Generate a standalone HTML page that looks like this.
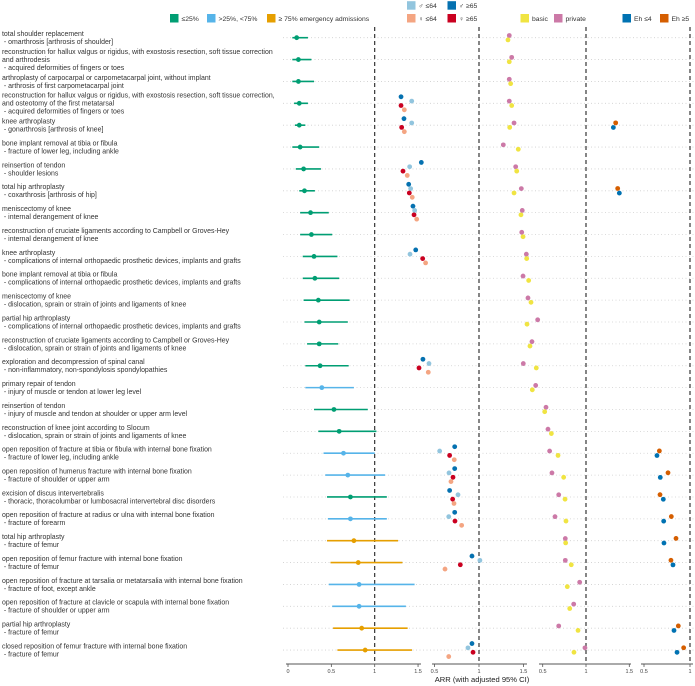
<!DOCTYPE html>
<html><head><meta charset="utf-8"><style>
html,body{margin:0;padding:0;background:#fff;}
svg{display:block;font-family:"Liberation Sans",sans-serif;}
</style></head><body>
<svg id="chart" width="695" height="686" viewBox="0 0 695 686"></svg>
<script>
const labels = [
["total shoulder replacement"," - omarthrosis [arthrosis of shoulder]"],
["reconstruction for hallux valgus or rigidus, with exostosis resection, soft tissue correction","and arthrodesis"," - acquired deformities of fingers or toes"],
["arthroplasty of carpocarpal or carpometacarpal joint, without implant"," - arthrosis of first carpometacarpal joint"],
["reconstruction for hallux valgus or rigidus, with exostosis resection, soft tissue correction,","and osteotomy of the first metatarsal"," - acquired deformities of fingers or toes"],
["knee arthroplasty"," - gonarthrosis [arthrosis of knee]"],
["bone implant removal at tibia or fibula"," - fracture of lower leg, including ankle"],
["reinsertion of tendon"," - shoulder lesions"],
["total hip arthroplasty"," - coxarthrosis [arthrosis of hip]"],
["meniscectomy of knee"," - internal derangement of knee"],
["reconstruction of cruciate ligaments according to Campbell or Groves-Hey"," - internal derangement of knee"],
["knee arthroplasty"," - complications of internal orthopaedic prosthetic devices, implants and grafts"],
["bone implant removal at tibia or fibula"," - complications of internal orthopaedic prosthetic devices, implants and grafts"],
["meniscectomy of knee"," - dislocation, sprain or strain of joints and ligaments of knee"],
["partial hip arthroplasty"," - complications of internal orthopaedic prosthetic devices, implants and grafts"],
["reconstruction of cruciate ligaments according to Campbell or Groves-Hey"," - dislocation, sprain or strain of joints and ligaments of knee"],
["exploration and decompression of spinal canal"," - non-inflammatory, non-spondylosis spondylopathies"],
["primary repair of tendon"," - injury of muscle or tendon at lower leg level"],
["reinsertion of tendon"," - injury of muscle and tendon at shoulder or upper arm level"],
["reconstruction of knee joint according to Slocum"," - dislocation, sprain or strain of joints and ligaments of knee"],
["open reposition of fracture at tibia or fibula with internal bone fixation"," - fracture of lower leg, including ankle"],
["open reposition of humerus fracture with internal bone fixation"," - fracture of shoulder or upper arm"],
["excision of discus intervertebralis"," - thoracic, thoracolumbar or lumbosacral intervertebral disc disorders"],
["open reposition of fracture at radius or ulna with internal bone fixation"," - fracture of forearm"],
["total hip arthroplasty"," - fracture of femur"],
["open reposition of femur fracture with internal bone fixation"," - fracture of femur"],
["open reposition of fracture at tarsalia or metatarsalia with internal bone fixation"," - fracture of foot, except ankle"],
["open reposition of fracture at clavicle or scapula with internal bone fixation"," - fracture of shoulder or upper arm"],
["partial hip arthroplasty"," - fracture of femur"],
["closed reposition of femur fracture with internal bone fixation"," - fracture of femur"]
];
// overall ARR with CI and emergency class (0: <=25%, 1: 25-75%, 2: >=75%)
const arr = [0.10,0.12,0.12,0.13,0.13,0.14,0.18,0.19,0.26,0.27,0.30,0.31,0.35,0.36,0.36,0.37,0.39,0.53,0.59,0.64,0.69,0.72,0.72,0.76,0.81,0.82,0.82,0.85,0.89];
const ciLow = [0.05,0.05,0.05,0.07,0.08,0.05,0.09,0.13,0.14,0.14,0.17,0.17,0.18,0.19,0.22,0.20,0.20,0.30,0.35,0.41,0.43,0.45,0.46,0.45,0.49,0.47,0.51,0.52,0.57];
const ciHigh = [0.23,0.27,0.30,0.23,0.20,0.36,0.38,0.31,0.47,0.51,0.57,0.59,0.71,0.69,0.58,0.70,0.76,0.92,1.02,1.00,1.12,1.14,1.14,1.27,1.32,1.46,1.36,1.38,1.43];
const emergClass = [0,0,0,0,0,0,0,0,0,0,0,0,0,0,0,0,1,0,0,1,1,0,1,2,2,1,1,2,2];
// sex/age panel (row index, values)
const sexRows = [3,4,6,7,8,10,15,19,20,21,22,24,28];
const maleOld = [0.124,0.157,0.352,0.21,0.258,0.289,0.37,0.727,0.727,0.67,0.727,0.921,0.921];
const maleYoung = [0.244,0.244,0.221,0.232,0.277,0.225,0.438,0.558,0.663,0.764,0.66,1.01,0.876];
const femaleOld = [0.124,0.131,0.146,0.217,0.27,0.367,0.326,0.67,0.708,0.704,0.73,0.79,0.933];
const femaleYoung = [0.161,0.161,0.194,0.25,0.30,0.40,0.43,0.722,0.685,0.719,0.805,0.618,0.66];
// insurance panel (all rows)
const privateIns = [0.114,0.142,0.114,0.114,0.169,0.045,0.188,0.253,0.264,0.258,0.311,0.273,0.33,0.442,0.376,0.276,0.419,0.538,0.561,0.58,0.607,0.685,0.642,0.761,0.761,0.927,0.858,0.685,0.988];
const basicIns = [0.099,0.114,0.130,0.142,0.119,0.218,0.20,0.169,0.249,0.273,0.315,0.338,0.365,0.319,0.353,0.426,0.38,0.523,0.60,0.677,0.742,0.758,0.769,0.765,0.83,0.784,0.812,0.908,0.861];
// Elixhauser panel
const ehRows = [4,7,19,20,21,22,23,24,27,28];
const ehHigh = [0.192,0.214,0.667,0.761,0.674,0.797,0.848,0.793,0.873,0.931];
const ehLow = [0.167,0.232,0.641,0.677,0.71,0.714,0.717,0.815,0.826,0.859];
const ticks1 = ["0","0.5","1","1.5"];
const ticksN = ["0.5","1","1.5"];

const NS="http://www.w3.org/2000/svg";
const svg=document.getElementById('chart');
function mk(tag,attrs,parent){const e=document.createElementNS(NS,tag);for(const k in attrs)e.setAttribute(k,attrs[k]);(parent||svg).appendChild(e);return e;}
const rowY=i=>37.7+i*21.87;
const x1=v=>288+v*86.7;
const xs=v=>479+(v-1)*89;
const xi=v=>586+(v-1)*86.6;
const xe=v=>690+(v-1)*92;
const emergColors=["#009E73","#56B4E9","#E69F00"];

for(let i=0;i<labels.length;i++){
  const g=mk('line',{x1:283,x2:695,y1:rowY(i),y2:rowY(i),stroke:"#cfcfcf","stroke-width":0.8,"stroke-dasharray":"1,2.5"});
  
  
}
[x1(1),xs(1),xi(1),xe(1)].forEach(x=>{
  const l=mk('line',{x1:x,x2:x,y1:27,y2:664,stroke:"#222","stroke-width":1.1,"stroke-dasharray":"4,3"});
  
  
});
labels.forEach((lines,i)=>{
  const n=lines.length, y0=rowY(i)-(n-1)*4+2.4;
  const t=mk('text',{x:2,y:y0,"font-size":"6.95px",fill:"#333"});
  
  
  lines.forEach((s,j)=>{const ts=mk('tspan',{x:2,y:y0+j*8},t);ts.textContent=s;});
});
arr.forEach((v,i)=>{
  const c=emergColors[emergClass[i]], y=rowY(i);
  const l=mk('line',{x1:x1(ciLow[i]),x2:x1(ciHigh[i]),y1:y,y2:y,stroke:c,"stroke-width":1.6});
  
  
  const p=mk('circle',{cx:x1(v),cy:y,r:2.4,fill:c});
  
  
});
function dot(x,y,c,name){const d=mk('circle',{cx:x,cy:y,r:2.4,fill:c});}
sexRows.forEach((r,k)=>{
  const y=rowY(r);
  dot(xs(maleOld[k]),y-6.5,"#0571b0",'male-65plus-point');
  dot(xs(maleYoung[k]),y-2.2,"#92c5de",'male-under65-point');
  dot(xs(femaleOld[k]),y+2.2,"#ca0020",'female-65plus-point');
  dot(xs(femaleYoung[k]),y+6.5,"#f4a582",'female-under65-point');
});
privateIns.forEach((v,i)=>{
  const y=rowY(i);
  dot(xi(v),y-2.2,"#CC79A7",'private-point');
  dot(xi(basicIns[i]),y+2.2,"#F0E442",'basic-point');
});
ehRows.forEach((r,k)=>{
  const y=rowY(r);
  dot(xe(ehHigh[k]),y-2.3,"#D55E00",'eh-high-point');
  dot(xe(ehLow[k]),y+2.3,"#0072B2",'eh-low-point');
});
const axes=[[286,421,x1,ticks1],[432,527,xs,ticksN],[539,631,xi,ticksN],[641,693,xe,["0.5","1"]]];
axes.forEach(([a,b,f,tk])=>{
  const l=mk('line',{x1:a,x2:b,y1:664,y2:664,stroke:"#555","stroke-width":1});
  
  
  tk.forEach(s=>{
    const x=f(parseFloat(s));
    mk('line',{x1:x,x2:x,y1:664,y2:667,stroke:"#555","stroke-width":0.8});
    const t=mk('text',{x:x,y:673,"font-size":"5.5px","text-anchor":"middle",fill:"#444"});
    
    
    t.textContent=s;
  });
});
const xt=mk('text',{x:482,y:682,"font-size":"7.6px","text-anchor":"middle",fill:"#222"});


xt.textContent="ARR (with adjusted 95% CI)";
function legend(x,y,c,txt,name){
  const g=mk('g',{});
  
  
  mk('rect',{x:x,y:y-4.5,width:8.5,height:8.5,fill:c},g);
  const t=mk('text',{x:x+11.5,y:y+2.5,"font-size":"6.8px",fill:"#333"},g);
  t.textContent=txt;
}
legend(170,18.5,"#009E73","≤25%",'legend-low-emergency');
legend(207,18.5,"#56B4E9",">25%, <75%",'legend-mid-emergency');
legend(267,18.5,"#E69F00","≥ 75% emergency admissions",'legend-high-emergency');
legend(407,5.7,"#92c5de","♂ ≤64",'legend-male-under65');
legend(447.5,5.7,"#0571b0","♂ ≥65",'legend-male-65plus');
legend(407,18.5,"#f4a582","♀ ≤64",'legend-female-under65');
legend(447.5,18.5,"#ca0020","♀ ≥65",'legend-female-65plus');
legend(520.5,18.5,"#F0E442","basic",'legend-basic');
legend(554,18.5,"#CC79A7","private",'legend-private');
legend(622.5,18.5,"#0072B2","Eh ≤4",'legend-eh-low');
legend(660,18.5,"#D55E00","Eh ≥5",'legend-eh-high');
</script>
</body></html>
